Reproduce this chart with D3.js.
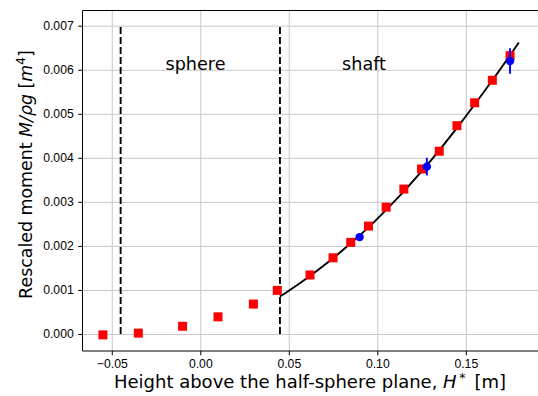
<!DOCTYPE html>
<html lang="en">
<head>
<meta charset="UTF-8">
<title>Rescaled moment vs height</title>
<script src="https://d3js.org/d3.v7.min.js"></script>
<style>
  body { margin: 0; background: #fff; }
  svg { display: block; font-family: "DejaVu Sans", sans-serif; }
  .axis .domain { display: none; }
  .axis text { font-size: 12.2px; fill: #000; }
  .axis line { stroke: #000; stroke-width: 1; }
  .grid line { stroke: #c8c8c8; stroke-width: 1; }
  .grid .domain { display: none; }
</style>
</head>
<body>
<svg id="chart" width="538" height="396"></svg>
<script>
// data
const squareH = [-0.055, -0.035, -0.010, 0.010, 0.030, 0.0435, 0.062, 0.075, 0.085, 0.095, 0.105, 0.115, 0.125, 0.135, 0.145, 0.155, 0.165, 0.175];
const squareM = [-0.00002, 0.00002, 0.000175, 0.00039, 0.00068, 0.00099, 0.00134, 0.00173, 0.00208, 0.00245, 0.00288, 0.00329, 0.003747, 0.00415, 0.00473, 0.00525, 0.00576, 0.00632];

const dotH = [0.090, 0.128, 0.175];
const dotM = [0.0022, 0.0038, 0.0062];
const dotErr = [0.00003, 0.0002, 0.00029];

const fitH = [0.045, 0.055, 0.065, 0.075, 0.085, 0.095, 0.105, 0.115, 0.125, 0.135, 0.145, 0.155, 0.165, 0.175, 0.180];
const fitM = [0.00085, 0.00112, 0.00141, 0.00172, 0.00206, 0.00242, 0.00282, 0.00324, 0.00369, 0.00417, 0.00468, 0.00521, 0.00576, 0.00633, 0.00662];

const boundaries = [-0.045, 0.045];
const regionNames = ["sphere", "shaft"];
const regionH = [-0.0027, 0.0925];

const xTicks = [-0.05, 0.00, 0.05, 0.10, 0.15];
const yTicks = [0.000, 0.001, 0.002, 0.003, 0.004, 0.005, 0.006, 0.007];

const svg = d3.select("#chart");
const mLeft = 82.5, mTop = 10.5, mBottom = 351, mRight = 539;

const x = d3.scaleLinear().domain([-0.06655, 0.19136]).range([mLeft, mRight]);
const y = d3.scaleLinear().domain([-0.000386, 0.007345]).range([mBottom, mTop]);

// grid
svg.append("g").attr("class", "grid")
  .attr("transform", `translate(0,${mBottom})`)
  .call(d3.axisBottom(x).tickValues(xTicks).tickSize(-(mBottom - mTop)).tickFormat(""));
svg.append("g").attr("class", "grid")
  .attr("transform", `translate(${mLeft},0)`)
  .call(d3.axisLeft(y).tickValues(yTicks).tickSize(-(mRight - mLeft)).tickFormat(""))
  .selectAll("line").attr("stroke", "#d4d4d4").attr("stroke-width", 1.4);

// region boundaries
svg.selectAll(".bound").data(boundaries).enter().append("line")
  .attr("x1", d => x(d)).attr("x2", d => x(d))
  .attr("y1", y(0)).attr("y2", y(0.007))
  .attr("stroke", "#000").attr("stroke-width", 1.9)
  .attr("stroke-dasharray", "7,3");

svg.selectAll(".region").data(regionNames).enter().append("text")
  .attr("x", (d, i) => x(regionH[i]))
  .attr("y", 69.5)
  .attr("text-anchor", "middle")
  .attr("font-size", "17.6px")
  .text(d => d);

// fit curve
const line = d3.line().x(d => x(d[0])).y(d => y(d[1])).curve(d3.curveMonotoneX);
svg.append("path")
  .datum(fitH.map((h, i) => [h, fitM[i]]))
  .attr("d", line)
  .attr("fill", "none").attr("stroke", "#000").attr("stroke-width", 1.9);

// measured squares
const sq = 9;
svg.selectAll(".sq").data(squareH).enter().append("rect")
  .attr("x", d => x(d) - sq / 2)
  .attr("y", (d, i) => y(squareM[i]) - sq / 2)
  .attr("width", sq).attr("height", sq)
  .attr("fill", "#ff0000");

// blue points with error bars
svg.selectAll(".err").data(dotH).enter().append("line")
  .attr("x1", d => x(d)).attr("x2", d => x(d))
  .attr("y1", (d, i) => y(dotM[i] - dotErr[i]))
  .attr("y2", (d, i) => y(dotM[i] + dotErr[i]))
  .attr("stroke", "#0000ff").attr("stroke-width", 1.9);
svg.selectAll(".dot").data(dotH).enter().append("circle")
  .attr("cx", d => x(d))
  .attr("cy", (d, i) => y(dotM[i]))
  .attr("r", 4.2)
  .attr("fill", "#0000ff");

// axes
const fx = d3.format(".2f"), fy = d3.format(".3f");
svg.append("g").attr("class", "axis")
  .attr("transform", `translate(0,${mBottom})`)
  .call(d3.axisBottom(x).tickValues(xTicks).tickSize(4.3).tickPadding(4).tickFormat(fx));
svg.append("g").attr("class", "axis")
  .attr("transform", `translate(${mLeft},0)`)
  .call(d3.axisLeft(y).tickValues(yTicks).tickSize(4.3).tickPadding(4.5).tickFormat(fy));

// spines
svg.append("line").attr("x1", mLeft).attr("x2", mLeft).attr("y1", mTop).attr("y2", mBottom).attr("stroke", "#000");
svg.append("line").attr("x1", mLeft).attr("x2", mRight).attr("y1", mBottom).attr("y2", mBottom).attr("stroke", "#000");
svg.append("line").attr("x1", mLeft).attr("x2", mRight).attr("y1", mTop).attr("y2", mTop).attr("stroke", "#000");

// axis labels
const xl = svg.append("text")
  .attr("x", 310).attr("y", 388)
  .attr("text-anchor", "middle").attr("font-size", "18px");
xl.append("tspan").text("Height above the half-sphere plane, ");
xl.append("tspan").attr("font-style", "italic").text("H");
xl.append("tspan").attr("dy", -6).attr("font-size", "12.6px").text("\u2009*");
xl.append("tspan").attr("dy", 6).text("\u2002[m]");

const yl = svg.append("text")
  .attr("transform", "translate(31.5,174.5) rotate(-90)")
  .attr("text-anchor", "middle").attr("font-size", "17.4px");
yl.append("tspan").text("Rescaled moment ");
yl.append("tspan").attr("font-style", "italic").text("M/\u03c1g");
yl.append("tspan").text(" [");
yl.append("tspan").attr("font-style", "italic").text("m");
yl.append("tspan").attr("dy", -7).attr("font-size", "12.2px").text("4");
yl.append("tspan").attr("dy", 7).text("]");
</script>
</body>
</html>
